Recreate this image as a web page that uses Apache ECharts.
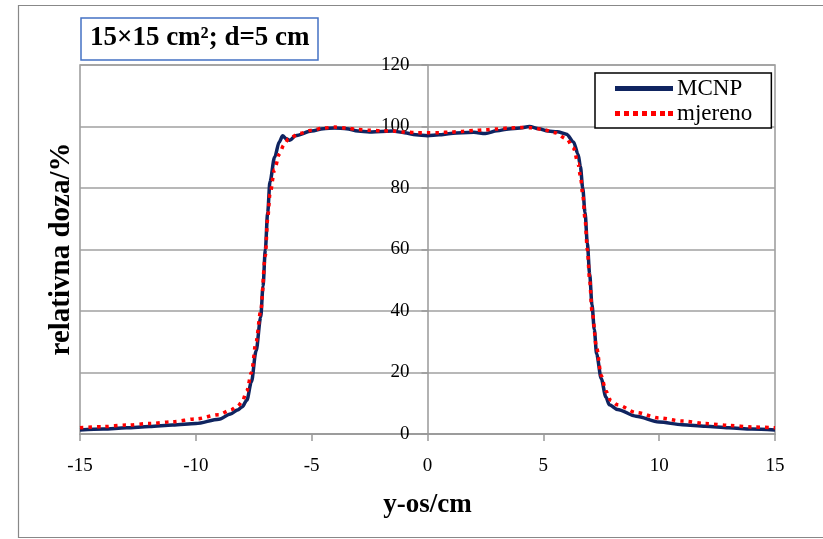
<!DOCTYPE html>
<html>
<head>
<meta charset="utf-8">
<script src="https://cdn.jsdelivr.net/npm/echarts@6/dist/echarts.min.js"></script>
<style>html,body{margin:0;padding:0;background:#fff}#c{width:823px;height:539px}</style>
</head>
<body>
<div id="c"></div>
<script>
var titleText = '15×15 cm²; d=5 cm';
var xAxisName = 'y-os/cm';
var yAxisName = 'relativna doza/%';
var seriesNames = ['MCNP', 'mjereno'];

var mcnpX = [-15,-14,-13,-12,-11,-10,-9,-8.5,-8.2,-8.0,-7.8,-7.6,-7.4,-7.2,-7.1,-7.0,-6.9,-6.8,-6.6,-6.4,-6.25,-6.1,-5.95,-5.7,-5.0,-4.5,-4.0,-3.5,-3.0,-2.5,-2.0,-1.5,-1.0,-0.5,0,0.5,1.0,1.5,2.0,2.5,3.0,3.5,4.0,4.4,4.8,5.2,5.6,6.0,6.3,6.5,6.6,6.7,6.8,6.9,7.0,7.1,7.2,7.3,7.5,7.7,7.85,8.2,9,10,11,12,13,14,15];
var mcnpY = [1.3,1.6,2.0,2.4,2.9,3.4,4.8,6.5,7.8,8.8,11,17,27,38,48,60,72,82,90,95,97,96,95.5,97,98.5,99.3,99.5,99.3,98.5,98.2,98.4,98.5,98,97.3,97,97.3,97.7,98,98.1,97.7,98.6,99.2,99.5,100,99.3,98.5,98.3,97.5,95,91,87,80,72,62,52,42,34,26,18,12,9.5,8,5.8,3.9,3,2.5,2,1.6,1.3];

var mjerX = [-15,-14,-13,-12,-11,-10,-9,-8.5,-8.2,-8.0,-7.8,-7.6,-7.4,-7.2,-7.0,-6.9,-6.8,-6.6,-6.4,-6.2,-6.0,-5.5,-5.0,-4.5,-4.0,-3.5,-3.0,-2.5,-2.0,-1.5,-1.0,-0.5,0,0.5,1.0,1.5,2.0,2.5,3.0,3.5,4.0,4.5,5.0,5.5,6.0,6.3,6.5,6.6,6.7,6.8,6.9,7.0,7.1,7.3,7.5,7.7,7.9,8.2,9,10,11,12,13,14,15];
var mjerY = [2.0,2.4,2.9,3.4,4.0,4.9,6.3,7.8,9,10.5,14,20,30,40,58,70,78,86,91,94,96,97.8,98.8,99.5,99.8,99.5,99,98.8,98.6,98.5,98.2,98,98,98,98.2,98.4,98.7,98.9,99.2,99.5,99.7,99.6,99,98,96,93,88,84,78,70,60,50,40,28,19,14,11,9.5,7,5.2,4.2,3.4,2.8,2.3,2.0];

function pairs(xs, ys) { return xs.map(function (x, i) { return [x, ys[i]]; }); }

var serif = '"Liberation Serif", "Times New Roman", serif';
var gridLeft = 80, gridRight = 48;
var plotWidth = 823 - gridLeft - gridRight;
var chart = echarts.init(document.getElementById('c'));
chart.setOption({
  animation: false,
  backgroundColor: '#fff',
  title: {
    text: titleText,
    left: 81, top: 18,
    padding: [7, 9, 8, 9],
    borderColor: '#4472C4', borderWidth: 1.5,
    backgroundColor: '#fff',
    textStyle: { fontFamily: serif, fontSize: 27, fontWeight: 'bold', color: '#000' }
  },
  legend: {
    orient: 'vertical',
    left: 595, top: 73,
    padding: [4, 19, 3, 20],
    itemGap: 2,
    itemWidth: 58, itemHeight: 5,
    borderColor: '#000', borderWidth: 1.5,
    backgroundColor: '#fff',
    textStyle: { fontFamily: serif, fontSize: 23, lineHeight: 21, color: '#000', padding: [0, 0, 0, -1] },
    data: [
      { name: seriesNames[0], icon: 'path://M0,0h58v5h-58z', itemStyle: { color: '#0F2460' } },
      { name: seriesNames[1], icon: 'path://M0,0h5v5h-5zM9,0h5v5h-5zM18,0h5v5h-5zM27,0h5v5h-5zM36,0h5v5h-5zM45,0h5v5h-5zM53,0h5v5h-5z', itemStyle: { color: '#FF0000' } }
    ]
  },
  grid: {
    left: gridLeft, right: gridRight, top: 65, bottom: 105,
    show: true, borderColor: '#999', borderWidth: 1.5
  },
  xAxis: {
    type: 'value', min: -15, max: 15, interval: 5,
    name: xAxisName, nameLocation: 'middle', nameGap: 58,
    nameTextStyle: { fontFamily: serif, fontSize: 27, fontWeight: 'bold', color: '#000' },
    axisLine: { onZero: true, lineStyle: { color: '#999', width: 1.5 } },
    axisTick: { show: true, length: 7, lineStyle: { color: '#999', width: 1.5 } },
    axisLabel: { fontFamily: serif, fontSize: 19, color: '#000', margin: 23 },
    splitLine: { show: false }
  },
  yAxis: {
    type: 'value', min: 0, max: 120, interval: 20,
    position: 'left', offset: -plotWidth / 2,
    axisLine: { show: true, onZero: false, lineStyle: { color: '#999', width: 1.5 } },
    axisTick: { show: true, length: 6, lineStyle: { color: '#999', width: 1.5 } },
    axisLabel: { fontFamily: serif, fontSize: 19, color: '#000', margin: 18 },
    splitLine: { show: true, lineStyle: { color: '#a0a0a0', width: 1.5 } }
  },
  graphic: [
    {
      type: 'rect', silent: true, z: -10,
      shape: { x: 18.5, y: 5.5, width: 830, height: 532 },
      style: { fill: 'none', stroke: '#888', lineWidth: 1.2 }
    },
    {
      type: 'text', x: 62, y: 249, rotation: Math.PI / 2,
      style: {
        text: yAxisName, fontFamily: serif, fontSize: 29, fontWeight: 'bold',
        fill: '#000', align: 'center', verticalAlign: 'middle'
      }
    }
  ],
  series: [
    {
      name: seriesNames[0], type: 'line', data: pairs(mcnpX, mcnpY),
      showSymbol: false, symbol: 'none', smooth: 0.3, smoothMonotone: 'x',
      lineStyle: { color: '#0F2460', width: 3.5 },
      itemStyle: { color: '#0F2460' }, z: 2
    },
    {
      name: seriesNames[1], type: 'line', data: pairs(mjerX, mjerY),
      showSymbol: false, symbol: 'none', smooth: 0.3, smoothMonotone: 'x',
      lineStyle: { color: '#FF0000', width: 3.5, type: [3.5, 5] },
      itemStyle: { color: '#FF0000' }, z: 3
    }
  ]
});
</script>
</body>
</html>
